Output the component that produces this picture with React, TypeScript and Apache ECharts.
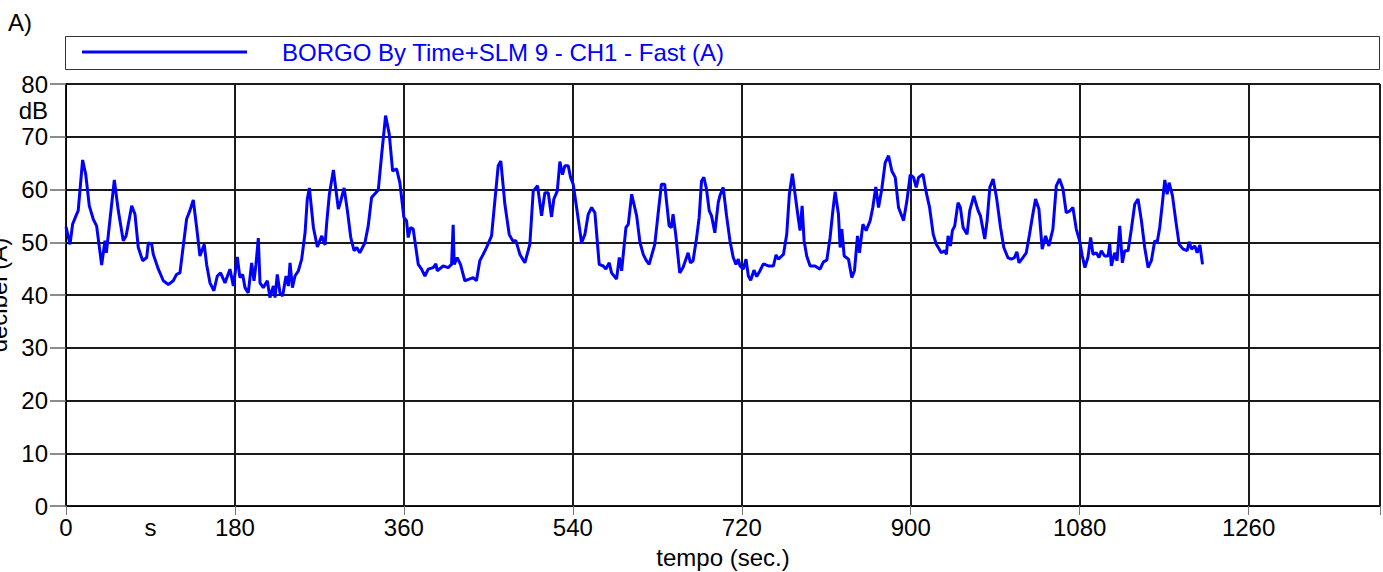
import React, { useEffect, useRef } from "react";
import * as echarts from "echarts";

const seriesName = "BORGO By Time+SLM 9 - CH1 - Fast (A)";
const panelTitle = "A)";
const xAxisName = "tempo (sec.)";
const yAxisName = "decibel (A)";
const xUnitLabel = "s";
const yUnitLabel = "dB";

const times = [
  0, 4.3, 7, 10.6, 13, 17.7, 21, 24.8, 29, 32.6, 38, 41.5, 43, 46.9, 51.5, 55.7, 61, 64, 70, 73.5,
  77, 81.7, 86, 87.7, 91.3, 93, 98.4, 103.7, 109, 114.3, 117.8, 121.4, 128.5, 132, 135.6, 139.2, 142.7, 147.3, 149.8, 153.4,
  157.6, 161.2, 164.7, 169.4, 174.7, 178.3, 182.5, 185.3, 188.2, 190.7, 194.2, 197.8, 200.3, 202.4, 204.9, 206.7, 210.2, 214.5, 217.3, 220.9,
  222.7, 225.1, 228, 230.8, 234.4, 236.9, 238.7, 241.2, 244, 247.6, 251.1, 254.7, 257.1, 259.3, 263.6, 267.8, 272.5, 276, 277.8, 280.6,
  284.9, 290.2, 292.7, 296.3, 299.8, 303.4, 306.9, 309.8, 313, 318.5, 322, 325.6, 332.7, 336.2, 340.5, 344.4, 348, 352.2, 355.7, 360,
  362.8, 364.6, 367.1, 369.9, 375.3, 378.8, 382.4, 385.9, 391.2, 394.1, 395.5, 401.9, 407.2, 410.8, 412.5, 413.6, 416.8, 420.3, 424.9, 429.5,
  433.8, 437.3, 440.9, 444.5, 448, 453.4, 456.9, 460.5, 463.3, 467.6, 472.2, 475.8, 479.3, 483.6, 488.9, 494.2, 497.8, 502.4, 506.7, 510.2,
  513.8, 517.3, 519.8, 523.4, 526.2, 529, 531.5, 535.1, 537.6, 540.4, 544, 549.3, 552.9, 556.4, 560, 563.5, 568.1, 572.4, 575.2, 578.8,
  581.3, 586.6, 589.5, 592, 596.6, 599.1, 602.7, 608, 611.5, 615, 618.4, 621.3, 627.3, 630.8, 634.4, 637.9, 642.6, 645, 646.8, 649.6,
  653.9, 657.4, 662.8, 665.3, 668.1, 671.7, 674.6, 677.1, 679.6, 682.4, 685.3, 687.8, 691.3, 694.9, 696.7, 700.2, 703.8, 707.4, 710.9, 713.8,
  716.3, 718.1, 721.6, 724.5, 727, 729.5, 733, 735.9, 739.4, 743, 748.3, 753.7, 756.5, 759, 764.4, 767.9, 770.7, 773.9, 776.8, 780.3,
  782.1, 784.3, 786.4, 789.2, 792.8, 798.1, 803.4, 807, 810.6, 814.1, 817, 819.5, 823, 824.8, 826.6, 829.1, 833.7, 837.2, 840.1, 843.3,
  845.4, 849, 852.5, 856.8, 859.6, 862.8, 865.7, 869.2, 872.8, 876.4, 879.9, 883.5, 887, 892.4, 895.9, 899.5, 903, 905.9, 908.4, 913,
  916.6, 920.1, 924, 927.3, 932.6, 936.2, 938, 939.8, 942.3, 944.4, 946.9, 950.4, 952.9, 955.8, 960, 962.9, 967.2, 971.8, 974.3, 978.9,
  981.4, 984.3, 987.8, 991.4, 995.7, 999.2, 1003.5, 1007.1, 1010.6, 1013.1, 1015.3, 1019.5, 1023.1, 1026.6, 1029.5, 1033, 1036.6, 1040.1, 1043.7, 1047.2,
  1051.5, 1055.1, 1058.6, 1062.2, 1065.7, 1069.3, 1072.8, 1076.4, 1079.9, 1082.8, 1085.6, 1088.8, 1091.7, 1094.2, 1097.7, 1100.6, 1103.1, 1106.6, 1110.2, 1112,
  1113.8, 1117.3, 1119.8, 1122.7, 1125.5, 1128, 1131.6, 1135.1, 1138.7, 1142.2, 1145.8, 1149.3, 1152.9, 1156.4, 1160, 1162.5, 1165.3, 1168.2, 1170.7, 1173.2,
  1175.3, 1178.9, 1182.4, 1186, 1190.3, 1194.5, 1196.7, 1199.2, 1202.7, 1205.2, 1208.1, 1210.9,
];

const levels = [
  52.9, 49.6, 53.4, 55, 56, 65.6, 62.9, 56.9, 54.4, 53.1, 45.7, 50.3, 48, 54.4, 61.8, 56, 50.3, 51.2, 56.9, 55.3,
  49, 46.5, 47.1, 49.9, 49.6, 47.7, 44.9, 42.7, 42, 42.7, 43.9, 44.2, 54.4, 56, 58, 52.8, 47.4, 49.6, 45.8, 42.3,
  40.8, 43.6, 44.2, 42.3, 44.9, 41.7, 47.2, 43.3, 43.9, 41.4, 40.4, 46.1, 42.7, 45.8, 50.8, 42.3, 41.4, 42.7, 39.5, 41.7,
  39.5, 43.9, 40.4, 39.8, 43.6, 41.7, 46.1, 41.4, 43.6, 44.6, 46.8, 51.8, 58.2, 60.3, 52.8, 49.1, 51.2, 49.5, 53.7, 59.1,
  63.7, 56.3, 57.8, 60.3, 56, 50.9, 48.4, 49, 48, 49.9, 53.1, 58.5, 59.9, 66.4, 74, 70.5, 63.5, 63.9, 61.3, 54.7,
  54.1, 50.9, 52.8, 52.5, 45.8, 44.9, 43.6, 44.9, 45.2, 45.9, 44.6, 45.5, 45.2, 45.8, 53.3, 45.8, 47.1, 45.8, 42.7, 43,
  43.3, 42.7, 46.5, 47.7, 49, 51.2, 57.8, 64.5, 65.4, 57.2, 51.5, 50.3, 50.3, 47.7, 46.1, 49.6, 59.7, 60.7, 55, 59.4,
  59.4, 54.8, 58.2, 59.7, 65.3, 62.8, 64.5, 64.5, 62.3, 61, 56.6, 49.9, 51.5, 55.3, 56.6, 55.6, 45.8, 45.5, 44.9, 46.1,
  44.2, 43, 47.1, 44.6, 52.8, 53.4, 59.1, 55, 50, 47.7, 46.5, 45.8, 49.6, 55.3, 61, 61, 53.1, 52.8, 55.3, 51.5,
  44.2, 45.2, 48, 46.1, 46.5, 50.6, 54.7, 61.6, 62.3, 60.1, 56, 55, 51.8, 57.5, 58.8, 60.4, 55, 50.3, 47.1, 45.8,
  46.8, 45.5, 44.9, 46.8, 43.6, 42.8, 44.7, 43.5, 44.6, 45.9, 45.5, 45.5, 47.6, 46.8, 47.7, 51.5, 59.1, 63, 59.1, 54.4,
  52.2, 56.9, 50.3, 47.4, 45.5, 45.5, 44.9, 46.3, 46.6, 50.9, 55.9, 59.6, 55.3, 49, 52.5, 47.4, 46.8, 43.3, 44.6, 51.2,
  48, 53.4, 52.2, 54.1, 56.6, 60.5, 56.6, 60.1, 65.1, 66.4, 63.5, 62.3, 56.6, 54.1, 57.8, 62.8, 62.3, 60.4, 62.3, 62.9,
  59.4, 56.6, 51.5, 49.6, 48, 48.4, 47.7, 51.2, 49.3, 52.2, 53.1, 57.5, 56.6, 52.8, 51.5, 56, 58.8, 56, 55, 50.6,
  54.1, 60.4, 62, 58.5, 52.8, 49, 47.1, 46.8, 47.1, 48.2, 46.1, 47.1, 48, 51.5, 54.7, 58.2, 56.3, 48.7, 51.2, 49.3,
  52.5, 60.7, 62, 60.1, 55.6, 55.9, 56.6, 52.5, 50.3, 47.4, 45.2, 47.1, 50.9, 47.7, 48, 47.1, 48.4, 47.4, 47.4, 49.7,
  45.5, 48, 46.5, 53.1, 46.1, 48.4, 48.4, 52.5, 57.2, 58.2, 54.1, 49, 45.2, 46.5, 50.3, 49.9, 52.8, 57.5, 61.8, 59.1,
  61.3, 58.8, 54.1, 49.6, 48.7, 48.4, 50.1, 48.7, 49.3, 48, 49.5, 45.8,
];

const xMin = 0;
const xMax = 1400;
const xStep = 180;
const yMin = 0;
const yMax = 80;
const yStep = 10;
const xUnitAt = 90;
const yUnitAt = 75;

const FONT = "'Liberation Sans', Arial, Helvetica, sans-serif";
const FS = 24;

export default function App() {
  const ref = useRef<HTMLDivElement>(null);

  useEffect(() => {
    if (!ref.current) return;
    const chart = echarts.init(ref.current, null, { renderer: "svg" });
    const data = times.map((t, i) => [t, levels[i]]);
    chart.setOption({
      animation: false,
      backgroundColor: "#ffffff",
      textStyle: { fontFamily: FONT },
      grid: {
        left: 66,
        top: 84,
        right: 3,
        bottom: 66,
        show: true,
        borderColor: "#000",
        borderWidth: 1,
        backgroundColor: "transparent",
        containLabel: false,
        outerBoundsMode: "none",
      },
      legend: {
        show: true,
        left: 82,
        top: 40,
        padding: 0,
        icon: "rect",
        itemWidth: 165,
        itemHeight: 3,
        textStyle: {
          color: "#0000ff",
          fontSize: FS,
          fontFamily: FONT,
          padding: [0, 0, 0, 30],
        },
        data: [seriesName],
      },
      xAxis: {
        type: "value",
        min: xMin,
        max: xMax,
        interval: xStep,
        name: xAxisName,
        nameLocation: "middle",
        nameGap: 39,
        nameTextStyle: { color: "#000", fontSize: FS, fontFamily: FONT },
        axisLine: { show: true, lineStyle: { color: "#000", width: 1 } },
        axisTick: { show: true, length: 9, lineStyle: { color: "#777", width: 1 } },
        axisLabel: {
          color: "#000",
          fontSize: FS,
          fontFamily: FONT,
          margin: 9,
          formatter: (v: number) => (v % xStep === 0 && v < xMax ? String(v) : ""),
        },
        splitLine: { show: true, lineStyle: { color: "#1a1a1a", width: 2 } },
      },
      yAxis: {
        type: "value",
        min: yMin,
        max: yMax,
        interval: yStep,
        name: yAxisName,
        nameLocation: "middle",
        nameGap: 51,
        nameRotate: 90,
        nameTextStyle: { color: "#000", fontSize: FS, fontFamily: FONT },
        axisLine: { show: true, lineStyle: { color: "#000", width: 1 } },
        axisTick: { show: true, length: 16, lineStyle: { color: "#666", width: 1.5 } },
        axisLabel: { color: "#000", fontSize: FS, fontFamily: FONT, margin: 18 },
        splitLine: { show: true, lineStyle: { color: "#1a1a1a", width: 2 } },
      },
      series: [
        {
          name: seriesName,
          type: "line",
          data,
          showSymbol: false,
          symbol: "none",
          lineStyle: { color: "#0000ff", width: 3 },
          itemStyle: { color: "#0000ff" },
          z: 5,
        },
      ],
    });

    const sx = chart.convertToPixel({ xAxisIndex: 0 }, xUnitAt) as number;
    const dy = chart.convertToPixel({ yAxisIndex: 0 }, yUnitAt) as number;
    chart.setOption({
      graphic: [
        {
          type: "text",
          left: 8,
          top: 10,
          style: { text: panelTitle, fill: "#000", font: `${FS}px ${FONT}` },
        },
        {
          type: "rect",
          shape: { x: 65.5, y: 36.5, width: 1314, height: 33 },
          style: { fill: "none", stroke: "#333", lineWidth: 1 },
          z: -1,
        },
        {
          type: "text",
          x: sx,
          y: 515,
          style: { text: xUnitLabel, fill: "#000", font: `${FS}px ${FONT}`, align: "center", verticalAlign: "top" },
        },
        {
          type: "text",
          x: 48,
          y: dy,
          style: { text: yUnitLabel, fill: "#000", font: `${FS}px ${FONT}`, align: "right", verticalAlign: "middle" },
        },
      ],
    });

    return () => chart.dispose();
  }, []);

  return (
    <div
      ref={ref}
      style={{ position: "absolute", left: 0, top: 0, width: 1383, height: 572 }}
    />
  );
}
